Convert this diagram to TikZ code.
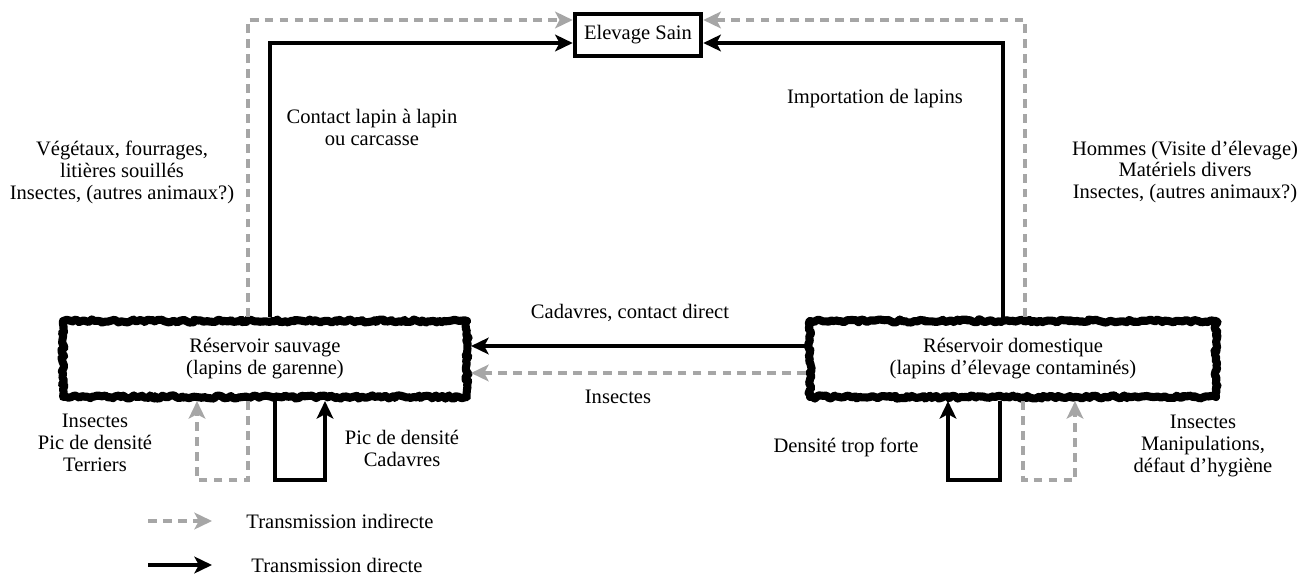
\documentclass[tikz,border=0pt]{standalone}
\usepackage{fontspec}
\setmainfont{Liberation Serif}
\usetikzlibrary{arrows.meta,decorations.pathmorphing}
\definecolor{indir}{HTML}{A6A6A6}
\begin{document}
\pgfmathsetseed{7}
\begin{tikzpicture}[x=0.02cm,y=-0.02cm,
  every node/.style={font=\fontsize{11.7}{12.5}\selectfont, align=center, inner sep=0pt},
  direct/.style={line width=2.3pt, black, -{Stealth[length=10pt,width=9.5pt,inset=2.5pt]}},
  indirect/.style={line width=1.9pt, indir, dash pattern=on 5pt off 3.5pt, -{Stealth[length=10pt,width=9.5pt,inset=2.5pt]}},
  reservoir/.style={draw, line width=4.6pt, line join=round, line cap=round, decorate, decoration={random steps, segment length=1.5pt, amplitude=0.9pt}, minimum height=76*0.02cm},
  plainbox/.style={draw, line width=2.6pt, minimum width=126*0.02cm, minimum height=42*0.02cm}]
\useasboundingbox (0,0) rectangle (1306,585);

\node[plainbox] (elev) at (638,35) {Elevage Sain};
\node[reservoir, minimum width=404*0.02cm] (sauv) at (265,359) {Réservoir sauvage\\(lapins de garenne)};
\node[reservoir, minimum width=406*0.02cm] (dom) at (1013,359) {Réservoir domestique\\(lapins d’élevage contaminés)};

% top connectors
\draw[indirect] (sauv.north -| 248,0) -- (248,20) -- (elev.west |- 0,20);
\draw[direct] (sauv.north -| 270,0) -- (270,43) -- (elev.west |- 0,43);
\draw[indirect] (dom.north -| 1025,0) -- (1025,20) -- (elev.east |- 0,20);
\draw[direct] (dom.north -| 1003,0) -- (1003,43) -- (elev.east |- 0,43);

% between reservoirs
\draw[direct] (dom.west |- 0,346) -- (sauv.east |- 0,346);
\draw[indirect] (dom.west |- 0,373) -- (sauv.east |- 0,373);

% loops
\draw[direct] (sauv.south -| 275,0) -- (275,480) -- (325,480) -- (sauv.south -| 325,0);
\draw[indirect] (sauv.south -| 248,0) -- (248,480) -- (197,480) -- (sauv.south -| 197,0);
\draw[direct] (dom.south -| 1000,0) -- (1000,480) -- (948,480) -- (dom.south -| 948,0);
\draw[indirect] (dom.south -| 1023,0) -- (1023,480) -- (1075,480) -- (dom.south -| 1075,0);

% labels
\node (l1) at (372,127) {Contact lapin à lapin\\ou carcasse};
\node (l2) at (875,99) {Importation de lapins};
\node (l3) at (122,172) {Végétaux, fourrages,\\litières souillés\\Insectes, (autres animaux?)};
\node (l4) at (1185,172) {Hommes (Visite d’élevage)\\Matériels divers\\Insectes, (autres animaux?)};
\node (l5) at (630,313) {Cadavres, contact direct};
\node (l6) at (618,397) {Insectes};
\node (l7) at (95,443) {Insectes\\Pic de densité\\Terriers};
\node (l8) at (402,448) {Pic de densité\\Cadavres};
\node (l9) at (846,447) {Densité trop forte};
\node (l10) at (1203,446) {Insectes\\Manipulations,\\défaut d’hygiène};

% legend
\coordinate (ia) at (148,521);
\coordinate (ib) at (212,521);
\coordinate (da) at (148,565);
\coordinate (db) at (212,565);
\draw[indirect] (ia) -- (ib);
\draw[direct] (da) -- (db);
\node (t1) at (340,521) {Transmission indirecte};
\node (t2) at (337,565) {Transmission directe};
\end{tikzpicture}
\end{document}
